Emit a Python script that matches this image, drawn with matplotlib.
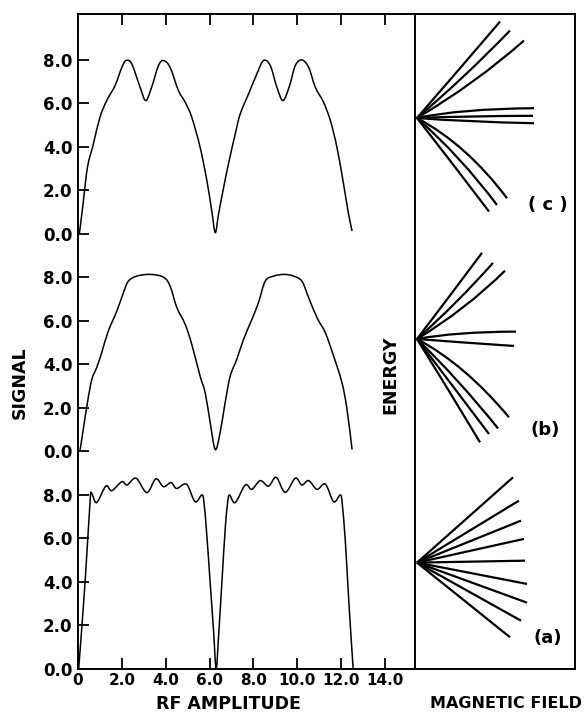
import matplotlib
matplotlib.use("Agg")
import matplotlib.pyplot as plt
import numpy as np
from matplotlib.path import Path
from matplotlib.patches import PathPatch

# signal vs RF amplitude
# (a) bottom trace
amp_a = [0.03, 0.32, 0.55, 0.62, 0.85, 1.27, 1.54, 2.0, 2.24, 2.65,
         3.14, 3.55, 3.9, 4.24, 4.5, 4.95, 5.34, 5.65, 5.75, 5.88, 6.03, 6.18,
         6.3, 6.41, 6.56, 6.71, 6.82, 6.91, 7.17, 7.63, 7.93, 8.31, 8.69, 9.04,
         9.45, 9.91, 10.21, 10.52, 10.9, 11.28, 11.66, 11.96, 12.05, 12.19,
         12.3, 12.42, 12.55]
sig_a = [0.0, 3.94, 7.7, 8.08, 7.65, 8.41, 8.2, 8.61, 8.46, 8.77,
         8.11, 8.74, 8.38, 8.57, 8.3, 8.49, 7.69, 8.0, 7.62, 6.08, 3.94, 1.79,
         0.0, 1.49, 3.94, 6.39, 7.62, 8.0, 7.65, 8.46, 8.26, 8.66, 8.41, 8.81,
         8.12, 8.77, 8.46, 8.66, 8.26, 8.5, 7.69, 8.0, 7.62, 5.9, 4.0, 2.0, 0.0]

# (b) middle trace
amp_b = [0.09, 0.24, 0.43, 0.63, 0.85, 1.08, 1.38, 1.77, 2.07, 2.3, 2.68, 3.29,
         3.9, 4.2, 4.51, 4.89, 5.19, 5.57, 5.8, 6.03, 6.26, 6.48, 6.71, 6.94,
         7.24, 7.55, 7.93, 8.23, 8.54, 8.92, 9.4, 9.83, 10.21, 10.52, 10.9,
         11.28, 11.66, 12.04, 12.27, 12.5]
sig_b = [0.02, 1.01, 2.24, 3.31, 3.85, 4.54, 5.53, 6.45, 7.3, 7.83, 8.06, 8.14,
         8.01, 7.6, 6.61, 5.84, 4.92, 3.46, 2.7, 1.32, 0.09, 0.86, 2.24, 3.46,
         4.23, 5.15, 6.07, 6.84, 7.83, 8.06, 8.14, 8.06, 7.83, 7.07, 6.15,
         5.46, 4.38, 3.16, 1.93, 0.09]

# (c) top trace
amp_c = [0.06, 0.21, 0.43, 0.7, 1.0, 1.31, 1.69, 2.0, 2.19, 2.45, 2.83, 3.09,
         3.36, 3.67, 3.9, 4.2, 4.58, 4.89, 5.19, 5.57, 5.88, 6.1, 6.26, 6.41,
         6.64, 6.86, 7.17, 7.4, 7.78, 8.16, 8.46, 8.77, 9.07, 9.35, 9.65, 9.91,
         10.21, 10.52, 10.82, 11.2, 11.51, 11.81, 12.11, 12.34, 12.5]
sig_c = [0.0, 1.2, 3.05, 4.13, 5.36, 6.13, 6.82, 7.66, 7.97, 7.82, 6.75, 6.13,
         6.75, 7.74, 7.97, 7.66, 6.59, 6.05, 5.36, 3.98, 2.44, 1.06, 0.06, 0.91,
         2.13, 3.21, 4.59, 5.52, 6.44, 7.36, 7.97, 7.74, 6.75, 6.13, 6.82, 7.74,
         8.0, 7.66, 6.75, 6.05, 5.21, 3.98, 2.3, 0.91, 0.14]

PANEL_SHIFT = {"a": 0.0, "b": 10.0, "c": 20.0}
y_ticks = [0, 2, 4, 6, 8]
y_ticklabels = ["0.0", "2.0", "4.0", "6.0", "8.0"]
x_ticks = [0, 2, 4, 6, 8, 10, 12, 14]
x_ticklabels = ["0", "2.0", "4.0", "6.0", "8.0", "10.0", "12.0", "14.0"]

# energy level fans (magnetic field, energy): common origin, line ends and
# bezier control points
fan_origin = {"a": (0.02, 4.89), "b": (0.02, 15.17), "c": (0.02, 25.33)}
fan_end = {
    "a": [(0.98, 8.81), (1.04, 7.74), (1.06, 6.82), (1.09, 5.98), (1.10, 4.98),
          (1.12, 3.91), (1.12, 3.05), (1.06, 2.22), (0.95, 1.46)],
    "b": [(0.67, 19.13), (0.78, 18.67), (0.90, 18.31), (1.01, 15.51),
          (0.99, 14.85), (0.94, 11.57), (0.83, 11.06), (0.74, 10.8),
          (0.65, 10.42)],
    "c": [(0.85, 29.76), (0.95, 29.35), (1.09, 28.89), (1.19, 25.78),
          (1.18, 25.43), (1.19, 25.09), (0.92, 21.64), (0.82, 21.33),
          (0.74, 21.03)],
}
fan_ctrl = {
    "a": [None] * 9,
    "b": [(0.34, 17.1), (0.42, 16.8), (0.5, 16.5), (0.4, 15.5), (0.5, 15.0),
          (0.5, 14.0), (0.43, 13.35), (0.38, 13.0), (0.34, 12.8)],
    "c": [(0.43, 27.5), (0.5, 27.2), (0.6, 26.9), (0.45, 25.75), (0.5, 25.42),
          (0.5, 25.15), (0.52, 24.1), (0.45, 23.6), (0.39, 23.15)],
}


def smooth(x, y):
    # catmull-rom through the read points, drawn as cubic beziers
    pts = np.column_stack([x, y])
    n = len(pts)
    verts = [pts[0]]
    codes = [Path.MOVETO]
    for i in range(n - 1):
        p0 = pts[max(i - 1, 0)]
        p1 = pts[i]
        p2 = pts[i + 1]
        p3 = pts[min(i + 2, n - 1)]
        verts += [p1 + (p2 - p0) / 6, p2 - (p3 - p1) / 6, p2]
        codes += [Path.CURVE4] * 3
    return Path(verts, codes)


W, H = 587, 718
fig = plt.figure(figsize=(W / 100, H / 100), dpi=100)
ax = fig.add_axes([78 / W, 1 - 669 / H, (415 - 78) / W, (669 - 14) / H])
ax2 = fig.add_axes([415 / W, 1 - 669 / H, (575 - 415) / W, (669 - 14) / H])

ylim = (0, 30.11)
ax.set_xlim(0, 15.37)
ax.set_ylim(*ylim)

for key, xs, ys in (("a", amp_a, sig_a), ("b", amp_b, sig_b), ("c", amp_c, sig_c)):
    shifted = np.array(ys) + PANEL_SHIFT[key]
    ax.add_patch(PathPatch(smooth(xs, shifted), fill=False, ec="black", lw=1.1))

yt = []
ytl = []
for key in ("a", "b", "c"):
    yt += [v + PANEL_SHIFT[key] for v in y_ticks]
    ytl += y_ticklabels
ax.set_yticks(yt)
ax.set_yticklabels(ytl)
ax.set_xticks(x_ticks)
ax.set_xticklabels(x_ticklabels)

ax.tick_params(axis="both", direction="in", length=8, width=1.3)
ax.tick_params(axis="x", top=True, pad=3, labelsize=11)
ax.tick_params(axis="y", right=False, pad=4, labelsize=12)
for lbl in ax.get_xticklabels() + ax.get_yticklabels():
    lbl.set_fontweight("bold")
for sp in ax.spines.values():
    sp.set_linewidth(1.4)

ax2.set_xlim(0, 1.6)
ax2.set_ylim(*ylim)
ax2.set_xticks([])
ax2.set_yticks([])
for sp in ax2.spines.values():
    sp.set_linewidth(1.4)

for key in ("a", "b", "c"):
    ox, oy = fan_origin[key]
    for (ex, ey), ctrl in zip(fan_end[key], fan_ctrl[key]):
        if ctrl is None:
            ax2.plot([ox, ex], [oy, ey], color="black", lw=1.6,
                     solid_capstyle="butt")
        else:
            p = Path([(ox, oy), ctrl, (ex, ey)],
                     [Path.MOVETO, Path.CURVE3, Path.CURVE3])
            ax2.add_patch(PathPatch(p, fill=False, ec="black", lw=1.6,
                                    capstyle="butt"))

font = dict(family="DejaVu Sans", weight="bold", size=12.5)
fig.text(20 / W, 1 - 383 / H, "SIGNAL", rotation=90, ha="center",
         va="center", **font)
fig.text(390 / W, 1 - 375 / H, "ENERGY", rotation=90, ha="center",
         va="center", **font)
fig.text(228 / W, 1 - 704 / H, "RF AMPLITUDE", ha="center", va="center",
         **font)
fig.text(506 / W, 1 - 704 / H, "MAGNETIC FIELD", ha="center", va="center",
         family="DejaVu Sans", weight="bold", size=11.5)
lab = dict(family="DejaVu Sans", weight="bold", size=13)
fig.text(548 / W, 1 - 205 / H, "( c )", ha="center", va="center", **lab)
fig.text(545 / W, 1 - 430 / H, "(b)", ha="center", va="center", **lab)
fig.text(548 / W, 1 - 638 / H, "(a)", ha="center", va="center", **lab)

fig.savefig("out.png", dpi=100)
